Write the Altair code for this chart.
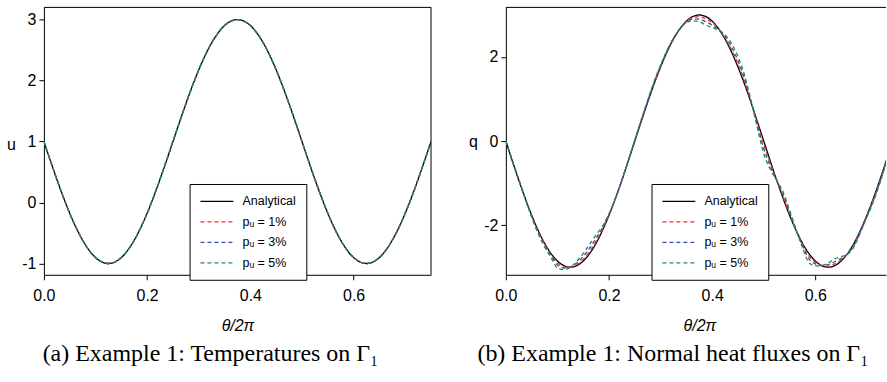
import altair as alt
import pandas as pd

# ---------------- data ----------------
x_vals = [round(i * 0.0125, 4) for i in range(61)]

u_exact = [1.0, 0.687, 0.382, 0.092, -0.176, -0.414, -0.618, -0.782, -0.902, -0.975,
           -1.0, -0.975, -0.902, -0.782, -0.618, -0.414, -0.176, 0.092, 0.382, 0.687,
           1.0, 1.313, 1.618, 1.908, 2.176, 2.414, 2.618, 2.782, 2.902, 2.975,
           3.0, 2.975, 2.902, 2.782, 2.618, 2.414, 2.176, 1.908, 1.618, 1.313,
           1.0, 0.687, 0.382, 0.092, -0.176, -0.414, -0.618, -0.782, -0.902, -0.975,
           -1.0, -0.975, -0.902, -0.782, -0.618, -0.414, -0.176, 0.092, 0.382, 0.687, 1.0]
u_p1 = [1.0, 0.687, 0.382, 0.092, -0.176, -0.414, -0.618, -0.782, -0.902, -0.975,
        -1.0, -0.975, -0.902, -0.782, -0.618, -0.414, -0.176, 0.092, 0.382, 0.687,
        1.0, 1.313, 1.618, 1.908, 2.176, 2.414, 2.618, 2.782, 2.902, 2.975,
        3.0, 2.975, 2.902, 2.782, 2.618, 2.414, 2.176, 1.908, 1.618, 1.313,
        1.0, 0.687, 0.382, 0.092, -0.176, -0.414, -0.618, -0.782, -0.902, -0.975,
        -1.0, -0.975, -0.902, -0.782, -0.618, -0.414, -0.176, 0.092, 0.382, 0.687, 1.0]
u_p3 = [1.0, 0.687, 0.382, 0.092, -0.176, -0.414, -0.618, -0.782, -0.902, -0.975,
        -1.0, -0.975, -0.902, -0.782, -0.618, -0.414, -0.176, 0.092, 0.382, 0.687,
        1.0, 1.313, 1.618, 1.908, 2.176, 2.414, 2.618, 2.782, 2.902, 2.975,
        3.0, 2.975, 2.902, 2.782, 2.618, 2.414, 2.176, 1.908, 1.618, 1.313,
        1.0, 0.687, 0.382, 0.092, -0.176, -0.414, -0.618, -0.782, -0.902, -0.975,
        -1.0, -0.975, -0.902, -0.782, -0.618, -0.414, -0.176, 0.092, 0.382, 0.687, 1.0]
u_p5 = [1.0, 0.687, 0.382, 0.092, -0.176, -0.414, -0.618, -0.782, -0.902, -0.975,
        -1.0, -0.975, -0.902, -0.782, -0.618, -0.414, -0.176, 0.092, 0.382, 0.687,
        1.0, 1.313, 1.618, 1.908, 2.176, 2.414, 2.618, 2.782, 2.902, 2.975,
        3.0, 2.975, 2.902, 2.782, 2.618, 2.414, 2.176, 1.908, 1.618, 1.313,
        1.0, 0.687, 0.382, 0.092, -0.176, -0.414, -0.618, -0.782, -0.902, -0.975,
        -1.0, -0.975, -0.902, -0.782, -0.618, -0.414, -0.176, 0.092, 0.382, 0.687, 1.0]

q_exact = [0.0, -0.469, -0.927, -1.362, -1.763, -2.121, -2.427, -2.673, -2.853, -2.963,
           -3.0, -2.963, -2.853, -2.673, -2.427, -2.121, -1.763, -1.362, -0.927, -0.469,
           0.0, 0.469, 0.927, 1.362, 1.763, 2.121, 2.427, 2.673, 2.853, 2.963,
           3.0, 2.963, 2.853, 2.673, 2.427, 2.121, 1.763, 1.362, 0.927, 0.469,
           0.0, -0.469, -0.927, -1.362, -1.763, -2.121, -2.427, -2.673, -2.853, -2.963,
           -3.0, -2.963, -2.853, -2.673, -2.427, -2.121, -1.763, -1.362, -0.927, -0.469, 0.0]
q_p1 = [0.0, -0.47, -0.92, -1.36, -1.78, -2.14, -2.45, -2.70, -2.90, -2.99,
        -3.00, -2.94, -2.81, -2.62, -2.38, -2.10, -1.76, -1.36, -0.93, -0.46,
        0.01, 0.48, 0.94, 1.38, 1.78, 2.13, 2.43, 2.67, 2.85, 2.94,
        2.96, 2.91, 2.82, 2.67, 2.45, 2.17, 1.83, 1.42, 0.94, 0.43,
        -0.08, -0.52, -0.93, -1.32, -1.73, -2.12, -2.45, -2.73, -2.88, -2.96,
        -2.98, -2.92, -2.83, -2.68, -2.45, -2.13, -1.77, -1.38, -0.95, -0.48, 0.0]
q_p3 = [0.0, -0.47, -0.92, -1.36, -1.79, -2.17, -2.48, -2.73, -2.95, -3.02,
        -3.00, -2.90, -2.74, -2.54, -2.31, -2.06, -1.74, -1.36, -0.93, -0.46,
        0.02, 0.49, 0.96, 1.40, 1.79, 2.14, 2.44, 2.67, 2.83, 2.90,
        2.90, 2.84, 2.76, 2.65, 2.49, 2.24, 1.91, 1.49, 0.96, 0.38,
        -0.18, -0.59, -0.93, -1.27, -1.69, -2.11, -2.49, -2.80, -2.92, -2.96,
        -2.94, -2.87, -2.79, -2.68, -2.48, -2.15, -1.79, -1.41, -0.98, -0.49, 0.0]
q_p5 = [0.0, -0.47, -0.91, -1.36, -1.81, -2.20, -2.51, -2.77, -3.02, -3.06,
        -3.00, -2.86, -2.67, -2.45, -2.23, -2.02, -1.73, -1.36, -0.93, -0.45,
        0.03, 0.51, 0.98, 1.42, 1.81, 2.16, 2.45, 2.67, 2.82, 2.86,
        2.84, 2.76, 2.70, 2.64, 2.53, 2.32, 2.01, 1.58, 0.98, 0.32,
        -0.30, -0.67, -0.93, -1.21, -1.64, -2.10, -2.53, -2.89, -2.97, -2.96,
        -2.90, -2.80, -2.75, -2.69, -2.51, -2.17, -1.81, -1.44, -1.01, -0.51, 0.0]

series_names = ["Analytical", "p\u1d64 = 1%", "p\u1d64 = 3%", "p\u1d64 = 5%"]
series_colors = ["#000000", "#ee2c2c", "#3d4db0", "#208e50"]
series_dashes = [[1, 0], [4, 3], [4, 3], [4, 3]]

x_ticks = [0.0, 0.2, 0.4, 0.6]
u_ticks = [-1, 0, 1, 2, 3]
q_ticks = [-2, 0, 2]


def long_frame(lists):
    rows = []
    for name, vals in zip(series_names, lists):
        for xv, yv in zip(x_vals, vals):
            rows.append({"x": xv, "y": yv, "series": name})
    return pd.DataFrame(rows)


df_u = long_frame([u_exact, u_p1, u_p3, u_p5])
df_q = long_frame([q_exact, q_p1, q_p3, q_p5])

H = 268
W_LEFT = 388
W_RIGHT = 381

label_expr = "datum.value < 0 ? '-' + format(-datum.value, 'd') : format(datum.value, 'd')"


def make_legend():
    return alt.Legend(
        title=None, orient="none", legendX=146, legendY=177,
        strokeColor="black", fillColor="white", padding=10, cornerRadius=0,
        symbolType="M-1,0H4", symbolSize=174, symbolStrokeWidth=1.3,
        labelFont="Liberation Sans", labelFontSize=12.5, labelColor="black",
        labelOffset=28, rowPadding=6.5,
    )


def panel(df, xdom, ydom, yticks, ytitle, width, title_y, caption, cap_dx, right_border):
    lines = alt.Chart(df).mark_line(strokeWidth=1.3, clip=True, interpolate="monotone").encode(
        x=alt.X("x:Q", scale=alt.Scale(domain=xdom, nice=False, zero=False),
                axis=alt.Axis(values=x_ticks, format=".1f", title="θ/2π", titleX=194,
                              titleFontStyle="italic",
                              tickSize=5, labelPadding=8, titlePadding=14, labelFlush=False)),
        y=alt.Y("y:Q", scale=alt.Scale(domain=ydom, nice=False, zero=False),
                axis=alt.Axis(values=yticks, labelExpr=label_expr, title=ytitle, titleAngle=0,
                              titleAlign="center", titleBaseline="middle", titleX=-33,
                              titleY=title_y, tickSize=5, labelPadding=3, labelFlush=False)),
        color=alt.Color("series:N", scale=alt.Scale(domain=series_names, range=series_colors),
                        legend=make_legend()),
        strokeDash=alt.StrokeDash("series:N", scale=alt.Scale(domain=series_names, range=series_dashes),
                                  legend=make_legend()),
    )
    dummy = pd.DataFrame({"a": [0]})
    layers = [lines,
              alt.Chart(dummy).mark_rule(color="black", strokeWidth=1).encode(
                  x=alt.value(0), x2=alt.value(width), y=alt.value(0))]
    if right_border:
        layers.append(alt.Chart(dummy).mark_rule(color="black", strokeWidth=1).encode(
            x=alt.value(width), y=alt.value(0), y2=alt.value(H)))
    return alt.layer(*layers).properties(
        width=width, height=H,
        title=alt.TitleParams(caption, orient="bottom", anchor="middle", dx=cap_dx, offset=8,
                              font="Liberation Serif", fontSize=24, fontWeight="normal",
                              color="black"),
    )


left = panel(df_u, [0, 0.75], [-1.185, 3.2], u_ticks, "u", W_LEFT, 137,
             "(a) Example 1: Temperatures on Γ₁", -27, True)
right = panel(df_q, [0, 0.737], [-3.18, 3.18], q_ticks, "q", W_RIGHT, 134,
              "(b) Example 1: Normal heat fluxes on Γ₁", -23, False)

chart = alt.hconcat(left, right, spacing=36).resolve_scale(
    color="independent", strokeDash="independent"
).properties(
    padding={"left": 6, "top": 6, "right": 0, "bottom": 0},
    background="white",
).configure_view(stroke=None).configure_axis(
    grid=False, domainColor="black", tickColor="black", labelColor="black", titleColor="black",
    labelFont="Liberation Sans", labelFontSize=16, titleFont="Liberation Sans", titleFontSize=16,
    titleFontWeight="normal", domainWidth=1, tickWidth=1,
)

chart.save("out.html", embed_options={"renderer": "svg", "actions": False})
